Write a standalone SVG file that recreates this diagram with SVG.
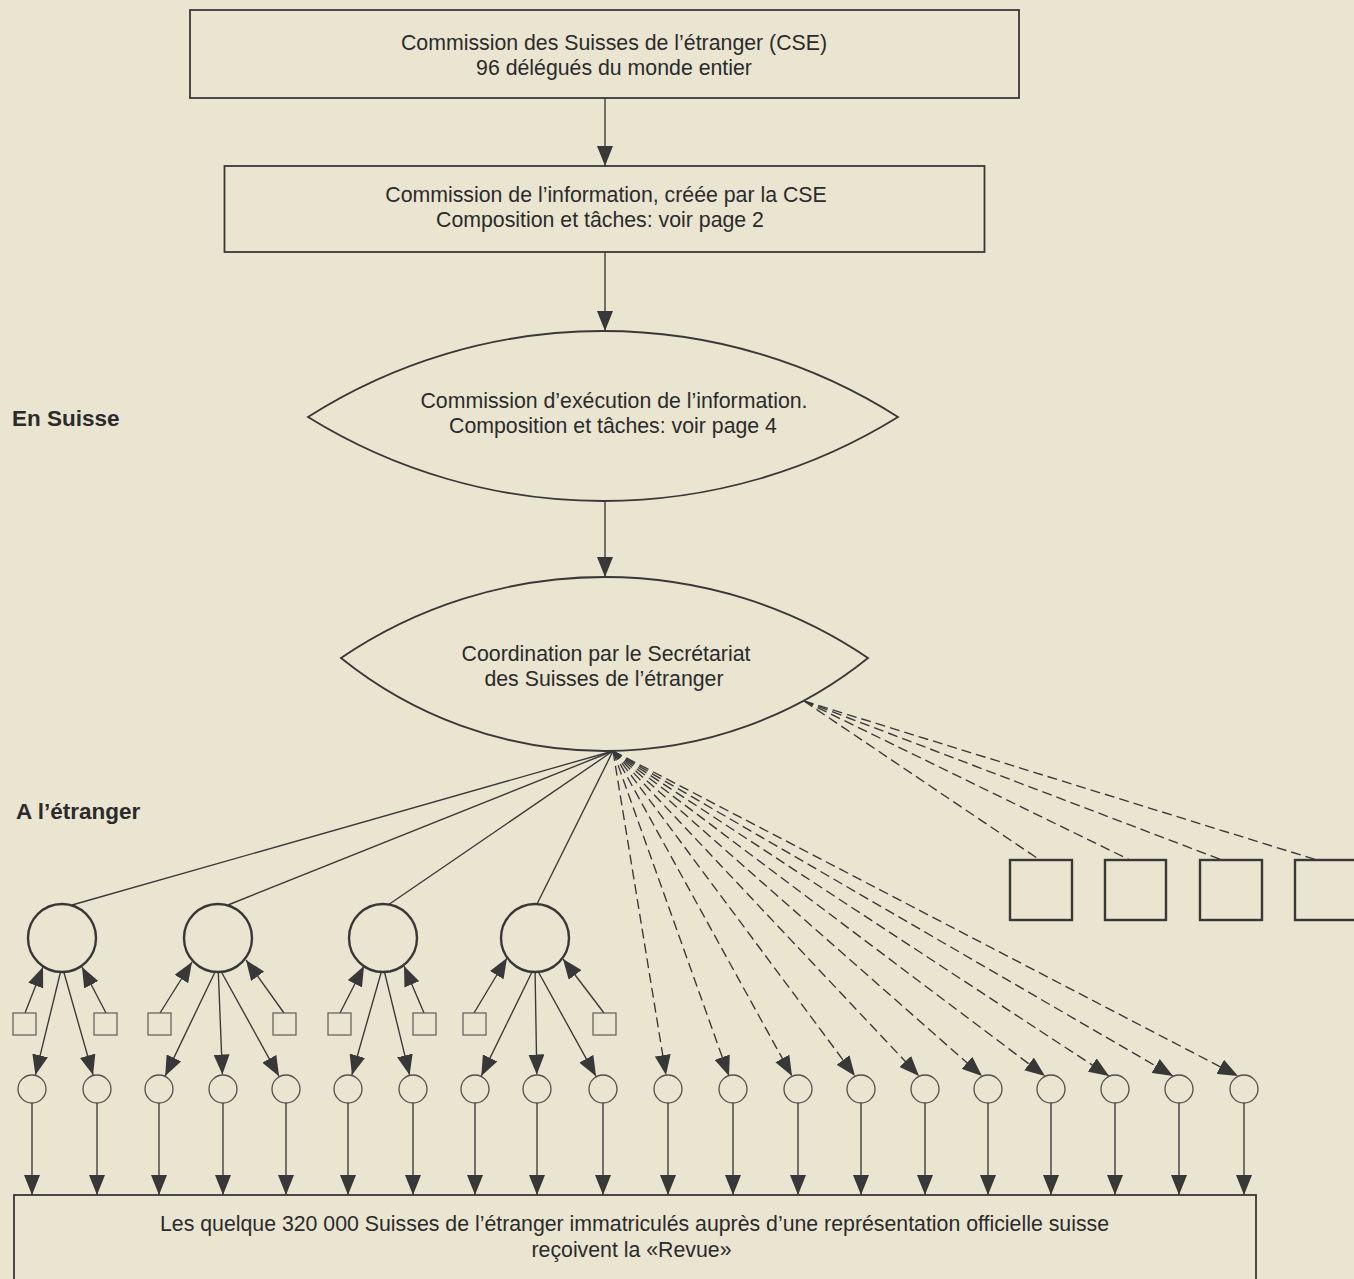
<svg xmlns="http://www.w3.org/2000/svg" width="1354" height="1279" viewBox="0 0 1354 1279">
<defs>
<style>
.bg{fill:#e9e5d0}
.box{fill:none;stroke:#383838;stroke-width:1.8}
.lens{fill:none;stroke:#383838;stroke-width:1.8}
.big{fill:none;stroke:#383838;stroke-width:2.4}
.small{fill:none;stroke:#505050;stroke-width:1.3}
.sq{fill:none;stroke:#666;stroke-width:1.3}
.rsq{fill:none;stroke:#383838;stroke-width:2.4}
.t{font-family:"Liberation Sans",Arial,sans-serif;font-size:21.3px;fill:#2b2b2b;text-anchor:middle}
.lb{font-family:"Liberation Sans",Arial,sans-serif;font-size:22.5px;font-weight:bold;fill:#2b2b2b}
.c line{stroke:#383838;stroke-width:1.35;fill:none}
.c .d{stroke-dasharray:10 5}
.c .a{marker-end:url(#ah)}
</style>
<marker id="ah" viewBox="0 0 20 16" refX="20" refY="8" markerWidth="20" markerHeight="16" markerUnits="userSpaceOnUse" orient="auto">
<path d="M0,0 L20,8 L0,16 Z" fill="#383838"/>
</marker>
</defs>
<rect class="bg" x="0" y="0" width="1354" height="1279"/>

<g id="connectors" class="c">
<line class="a" x1="605" y1="98" x2="605" y2="166"/>
<line class="a" x1="605" y1="252" x2="605" y2="331"/>
<line class="a" x1="605" y1="501" x2="605" y2="577"/>
<line x1="613" y1="751" x2="72" y2="905"/>
<line x1="613" y1="751" x2="228" y2="905"/>
<line x1="613" y1="751" x2="388" y2="905"/>
<line x1="613" y1="751" x2="537" y2="904"/>
<line class="a" x1="25" y1="1013" x2="43" y2="967"/>
<line class="a" x1="106" y1="1013" x2="82" y2="967"/>
<line class="a" x1="160" y1="1013" x2="192" y2="962"/>
<line class="a" x1="284" y1="1013" x2="246" y2="960"/>
<line class="a" x1="340" y1="1013" x2="364" y2="966"/>
<line class="a" x1="424" y1="1013" x2="404" y2="966"/>
<line class="a" x1="474" y1="1013" x2="507" y2="958"/>
<line class="a" x1="604" y1="1013" x2="563" y2="959"/>
<line class="a" x1="60.5" y1="972" x2="35.4" y2="1074.9"/>
<line class="a" x1="63.8" y1="972" x2="93.1" y2="1075"/>
<line class="a" x1="215" y1="972" x2="165.2" y2="1075.9"/>
<line class="a" x1="218.3" y1="972" x2="222.4" y2="1074.5"/>
<line class="a" x1="221.4" y1="972" x2="279" y2="1076.3"/>
<line class="a" x1="381.3" y1="972" x2="351.9" y2="1075"/>
<line class="a" x1="384.5" y1="972" x2="409.6" y2="1074.9"/>
<line class="a" x1="532" y1="972" x2="481.3" y2="1075.9"/>
<line class="a" x1="535.1" y1="972" x2="536.8" y2="1074.5"/>
<line class="a" x1="538.4" y1="972" x2="596" y2="1076.3"/>
<line class="a d" x1="613" y1="751" x2="666" y2="1075"/>
<line class="a d" x1="613" y1="751" x2="729" y2="1076"/>
<line class="a d" x1="613" y1="751" x2="792" y2="1076"/>
<line class="a d" x1="613" y1="751" x2="855" y2="1076"/>
<line class="a d" x1="613" y1="751" x2="919" y2="1076"/>
<line class="a d" x1="613" y1="751" x2="982" y2="1076"/>
<line class="a d" x1="613" y1="751" x2="1045" y2="1076"/>
<line class="a d" x1="613" y1="751" x2="1109" y2="1076"/>
<line class="a d" x1="613" y1="751" x2="1173" y2="1076"/>
<line class="a d" x1="613" y1="751" x2="1238" y2="1076"/>
<line class="d" x1="804" y1="701" x2="1040" y2="860"/>
<line class="d" x1="804" y1="701" x2="1130" y2="860"/>
<line class="d" x1="804" y1="701" x2="1222" y2="860"/>
<line class="d" x1="804" y1="701" x2="1317" y2="860"/>
<line class="a" x1="32" y1="1103" x2="32" y2="1195"/>
<line class="a" x1="97" y1="1103" x2="97" y2="1195"/>
<line class="a" x1="159" y1="1103" x2="159" y2="1195"/>
<line class="a" x1="223" y1="1103" x2="223" y2="1195"/>
<line class="a" x1="286" y1="1103" x2="286" y2="1195"/>
<line class="a" x1="348" y1="1103" x2="348" y2="1195"/>
<line class="a" x1="413" y1="1103" x2="413" y2="1195"/>
<line class="a" x1="475" y1="1103" x2="475" y2="1195"/>
<line class="a" x1="537" y1="1103" x2="537" y2="1195"/>
<line class="a" x1="603" y1="1103" x2="603" y2="1195"/>
<line class="a" x1="668" y1="1103" x2="668" y2="1195"/>
<line class="a" x1="733" y1="1103" x2="733" y2="1195"/>
<line class="a" x1="798" y1="1103" x2="798" y2="1195"/>
<line class="a" x1="861" y1="1103" x2="861" y2="1195"/>
<line class="a" x1="925" y1="1103" x2="925" y2="1195"/>
<line class="a" x1="988" y1="1103" x2="988" y2="1195"/>
<line class="a" x1="1051" y1="1103" x2="1051" y2="1195"/>
<line class="a" x1="1115" y1="1103" x2="1115" y2="1195"/>
<line class="a" x1="1179" y1="1103" x2="1179" y2="1195"/>
<line class="a" x1="1244" y1="1103" x2="1244" y2="1195"/>
</g>

<g id="node-cse">
<rect class="box" x="190" y="10" width="829" height="88"/>
<text class="t" x="614" y="50">Commission des Suisses de l’étranger (CSE)</text>
<text class="t" x="614" y="74.5">96 délégués du monde entier</text>
</g>
<g id="node-info">
<rect class="box" x="224.5" y="166" width="760" height="86"/>
<text class="t" x="606" y="202">Commission de l’information, créée par la CSE</text>
<text class="t" x="600" y="227">Composition et tâches: voir page 2</text>
</g>
<g id="node-exec">
<path class="lens" d="M308,417 A549,549 0 0 1 898,417 A560,560 0 0 1 308,417 Z"/>
<text class="t" x="614" y="408">Commission d’exécution de l’information.</text>
<text class="t" x="613" y="433">Composition et tâches: voir page 4</text>
</g>
<g id="node-coord">
<path class="lens" d="M341,658 A469.1,469.1 0 0 1 868,658 A419.8,419.8 0 0 1 341,658 Z"/>
<text class="t" x="606" y="661">Coordination par le Secrétariat</text>
<text class="t" x="604" y="686">des Suisses de l’étranger</text>
</g>
<g id="label-suisse"><text class="lb" x="12" y="426">En Suisse</text></g>
<g id="label-etranger"><text class="lb" x="16" y="819">A l’étranger</text></g>

<g id="node-groups">
<circle class="big" cx="62" cy="938" r="34"/>
<circle class="big" cx="218" cy="938" r="34"/>
<circle class="big" cx="383" cy="938" r="34"/>
<circle class="big" cx="535" cy="938" r="34"/>
</g>
<g id="node-squares">
<rect class="sq" x="13" y="1013" width="23" height="22"/>
<rect class="sq" x="94" y="1013" width="23" height="22"/>
<rect class="sq" x="148" y="1013" width="23" height="22"/>
<rect class="sq" x="273" y="1013" width="23" height="22"/>
<rect class="sq" x="328" y="1013" width="23" height="22"/>
<rect class="sq" x="413" y="1013" width="23" height="22"/>
<rect class="sq" x="463" y="1013" width="23" height="22"/>
<rect class="sq" x="593" y="1013" width="23" height="22"/>
</g>
<g id="node-right-squares">
<rect class="rsq" x="1010" y="860" width="62" height="60"/>
<rect class="rsq" x="1105" y="860" width="61" height="60"/>
<rect class="rsq" x="1200" y="860" width="62" height="60"/>
<rect class="rsq" x="1295" y="860" width="62" height="60"/>
</g>
<g id="node-readers">
<circle class="small" cx="32" cy="1089" r="14"/>
<circle class="small" cx="97" cy="1089" r="14"/>
<circle class="small" cx="159" cy="1089" r="14"/>
<circle class="small" cx="223" cy="1089" r="14"/>
<circle class="small" cx="286" cy="1089" r="14"/>
<circle class="small" cx="348" cy="1089" r="14"/>
<circle class="small" cx="413" cy="1089" r="14"/>
<circle class="small" cx="475" cy="1089" r="14"/>
<circle class="small" cx="537" cy="1089" r="14"/>
<circle class="small" cx="603" cy="1089" r="14"/>
<circle class="small" cx="668" cy="1089" r="14"/>
<circle class="small" cx="733" cy="1089" r="14"/>
<circle class="small" cx="798" cy="1089" r="14"/>
<circle class="small" cx="861" cy="1089" r="14"/>
<circle class="small" cx="925" cy="1089" r="14"/>
<circle class="small" cx="988" cy="1089" r="14"/>
<circle class="small" cx="1051" cy="1089" r="14"/>
<circle class="small" cx="1115" cy="1089" r="14"/>
<circle class="small" cx="1179" cy="1089" r="14"/>
<circle class="small" cx="1244" cy="1089" r="14"/>
</g>
<g id="node-suisses">
<rect class="box" x="14" y="1195" width="1242" height="110"/>
<text class="t" x="634.5" y="1231">Les quelque 320 000 Suisses de l’étranger immatriculés auprès d’une représentation officielle suisse</text>
<text class="t" x="631.5" y="1257">reçoivent la «Revue»</text>
</g>
</svg>
